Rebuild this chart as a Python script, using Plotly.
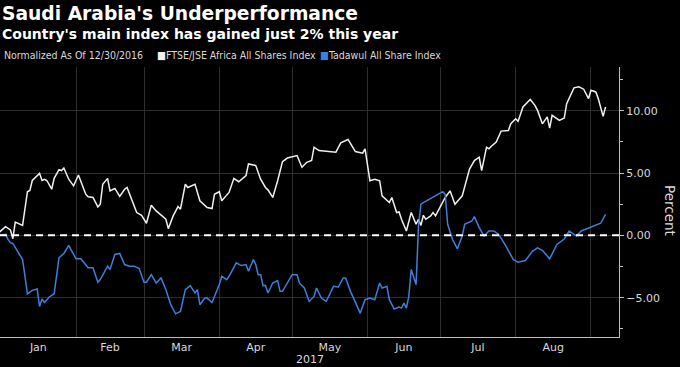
import plotly.graph_objects as go

# ---- data ----
ftse_dates = [
    "2016-12-30", "2017-01-03", "2017-01-05", "2017-01-06", "2017-01-07", "2017-01-09", "2017-01-10",
    "2017-01-12", "2017-01-13", "2017-01-14", "2017-01-17", "2017-01-18", "2017-01-19", "2017-01-20",
    "2017-01-22", "2017-01-23", "2017-01-25", "2017-01-26", "2017-01-27", "2017-01-29", "2017-01-31",
    "2017-02-02", "2017-02-05", "2017-02-06", "2017-02-08", "2017-02-10", "2017-02-11", "2017-02-12",
    "2017-02-14", "2017-02-15", "2017-02-17", "2017-02-19", "2017-02-21", "2017-02-22", "2017-02-24",
    "2017-02-26", "2017-02-28", "2017-03-02", "2017-03-04", "2017-03-06", "2017-03-10", "2017-03-11",
    "2017-03-13", "2017-03-15", "2017-03-16", "2017-03-18", "2017-03-19", "2017-03-22", "2017-03-24",
    "2017-03-27", "2017-03-29", "2017-03-30", "2017-04-01", "2017-04-02", "2017-04-05", "2017-04-07",
    "2017-04-09", "2017-04-12", "2017-04-13", "2017-04-16", "2017-04-18", "2017-04-20", "2017-04-21",
    "2017-04-23", "2017-04-25", "2017-04-27", "2017-04-29", "2017-05-03", "2017-05-05", "2017-05-07",
    "2017-05-09", "2017-05-10", "2017-05-12", "2017-05-14", "2017-05-19", "2017-05-21", "2017-05-24",
    "2017-05-27", "2017-05-30", "2017-05-31", "2017-06-02", "2017-06-04", "2017-06-06", "2017-06-07",
    "2017-06-10", "2017-06-11", "2017-06-13", "2017-06-14", "2017-06-15", "2017-06-17", "2017-06-19",
    "2017-06-21", "2017-06-22", "2017-06-23", "2017-06-24", "2017-06-25", "2017-06-27", "2017-06-28",
    "2017-06-29", "2017-07-03", "2017-07-05", "2017-07-07", "2017-07-10", "2017-07-13", "2017-07-15",
    "2017-07-17", "2017-07-18", "2017-07-20", "2017-07-21", "2017-07-22", "2017-07-24", "2017-07-26",
    "2017-07-28", "2017-07-29", "2017-07-30", "2017-08-01", "2017-08-02", "2017-08-04", "2017-08-07",
    "2017-08-09", "2017-08-10", "2017-08-12", "2017-08-13", "2017-08-14", "2017-08-15", "2017-08-16",
    "2017-08-19", "2017-08-21", "2017-08-22", "2017-08-23", "2017-08-25", "2017-08-27", "2017-08-29",
    "2017-08-31", "2017-09-01", "2017-09-03", "2017-09-04", "2017-09-06", "2017-09-07",
]
ftse_values = [
    0.00, 0.70, 0.43, -0.27, 1.07, 0.89, 0.80,
    3.50, 3.60, 4.40, 4.97, 4.40, 4.50, 4.40,
    3.70, 4.57, 5.27, 5.20, 5.40, 4.50, 3.97,
    4.84, 3.30, 3.10, 3.04, 2.28, 2.50, 4.10,
    4.57, 3.57, 3.76, 3.12, 3.70, 3.84, 2.90,
    1.83, 1.60, 0.97, 2.42, 1.96, 1.29, 0.54,
    1.56, 2.31, 2.10, 4.10, 3.84, 4.10, 2.77,
    2.23, 2.15, 3.30, 3.50, 2.77, 3.44, 4.57,
    4.30, 4.80, 5.73, 5.60, 4.50, 3.84, 3.65,
    3.04, 4.38, 5.91, 6.20, 6.40, 5.46, 5.86,
    6.00, 7.07, 6.80, 6.75, 6.67, 7.42, 7.69,
    6.72, 6.59, 6.94, 4.38, 4.50, 4.38, 3.17,
    2.63, 3.04, 1.83, 1.88, 1.29, 0.35, 1.83,
    0.89, 1.29, 0.80, 1.61, 1.29, 1.56, 1.83,
    1.56, 3.04, 3.57, 2.50, 3.17, 5.32, 6.00,
    6.27, 5.19, 7.07, 6.94, 7.15, 7.48, 8.36,
    8.41, 8.41, 8.95, 9.35, 9.14, 10.30, 10.90,
    10.40, 10.02, 8.95, 9.22, 9.49, 8.60, 9.62,
    9.22, 9.41, 10.56, 10.97, 11.83, 11.91, 11.72,
    10.97, 11.64, 11.50, 10.97, 9.54, 10.30,
]

tadawul_dates = [
    "2016-12-30", "2017-01-03", "2017-01-04", "2017-01-05", "2017-01-06", "2017-01-08", "2017-01-10",
    "2017-01-11", "2017-01-12", "2017-01-14", "2017-01-16", "2017-01-17", "2017-01-18", "2017-01-19",
    "2017-01-21", "2017-01-23", "2017-01-24", "2017-01-25", "2017-01-27", "2017-01-29", "2017-01-31",
    "2017-02-01", "2017-02-03", "2017-02-05", "2017-02-06", "2017-02-08", "2017-02-10", "2017-02-11",
    "2017-02-14", "2017-02-15", "2017-02-17", "2017-02-19", "2017-02-21", "2017-02-23", "2017-02-25",
    "2017-02-27", "2017-03-01", "2017-03-02", "2017-03-04", "2017-03-06", "2017-03-08", "2017-03-10",
    "2017-03-12", "2017-03-14", "2017-03-16", "2017-03-18", "2017-03-20", "2017-03-22", "2017-03-23",
    "2017-03-24", "2017-03-26", "2017-03-27", "2017-03-29", "2017-04-01", "2017-04-02", "2017-04-04",
    "2017-04-05", "2017-04-08", "2017-04-10", "2017-04-12", "2017-04-13", "2017-04-15", "2017-04-16",
    "2017-04-17", "2017-04-18", "2017-04-19", "2017-04-20", "2017-04-21", "2017-04-23", "2017-04-25",
    "2017-04-26", "2017-04-27", "2017-05-01", "2017-05-03", "2017-05-04", "2017-05-06", "2017-05-08",
    "2017-05-10", "2017-05-11", "2017-05-13", "2017-05-15", "2017-05-18", "2017-05-20", "2017-05-22",
    "2017-05-23", "2017-05-25", "2017-05-27", "2017-05-29", "2017-05-31", "2017-06-02", "2017-06-04",
    "2017-06-06", "2017-06-07", "2017-06-09", "2017-06-10", "2017-06-12", "2017-06-14", "2017-06-15",
    "2017-06-16", "2017-06-17", "2017-06-18", "2017-06-19", "2017-06-21", "2017-06-22", "2017-06-23",
    "2017-06-24", "2017-07-02", "2017-07-03", "2017-07-04", "2017-07-06", "2017-07-08", "2017-07-10",
    "2017-07-11", "2017-07-14", "2017-07-15", "2017-07-17", "2017-07-19", "2017-07-21", "2017-07-23",
    "2017-07-25", "2017-07-28", "2017-07-31", "2017-08-02", "2017-08-05", "2017-08-08", "2017-08-10",
    "2017-08-12", "2017-08-15", "2017-08-18", "2017-08-21", "2017-08-23", "2017-08-26", "2017-08-28",
    "2017-09-05", "2017-09-07",
]
tadawul_values = [
    0.00, 0.08, -0.32, -0.59, -0.65, -1.26, -1.94,
    -3.28, -4.70, -4.41, -4.30, -5.70, -5.10, -5.38,
    -4.94, -4.68, -3.01, -1.80, -1.45, -0.81, -1.53,
    -1.88, -1.88, -2.42, -2.60, -2.60, -3.76, -3.55,
    -2.47, -2.74, -1.53, -1.45, -2.34, -2.47, -2.47,
    -2.66, -3.76, -3.76, -3.15, -3.82, -3.41, -4.35,
    -5.56, -6.29, -6.10, -4.35, -4.03, -4.62, -4.35,
    -5.56, -5.03, -5.03, -5.38, -3.95, -3.28, -3.55,
    -3.28, -2.20, -2.42, -2.34, -2.88, -1.94, -2.34,
    -3.15, -3.15, -4.03, -4.00, -4.62, -3.82, -3.63,
    -4.49, -4.49, -3.15, -3.15, -3.82, -4.22, -5.30,
    -4.90, -4.22, -5.03, -5.30, -4.09, -4.14, -3.41,
    -3.41, -4.49, -5.30, -6.24, -5.16, -5.03, -5.16,
    -3.82, -4.22, -4.09, -5.16, -5.91, -5.75, -5.83,
    -5.43, -5.83, -4.90, -2.74, -3.95, 0.75, 2.50,
    2.63, 3.50, 3.30, 0.89, -0.32, -1.08, -0.05,
    0.89, 1.15, 1.50, 0.62, -0.05, 0.35, 0.35,
    0.08, -0.86, -1.94, -2.15, -2.02, -1.26, -1.00,
    -1.21, -1.88, -0.73, -0.30, 0.35, -0.05, 0.35,
    0.97, 1.69,
]

series_names = ["FTSE/JSE Africa All Shares Index", "Tadawul All Share Index"]
y_tick_step = 5
title_text = "Saudi Arabia's Underperformance"
subtitle_text = "Country's main index has gained just 2% this year"
note_text = "Normalized As Of 12/30/2016"
year_label = "2017"
axis_title = "Percent"

WHITE = "#f0f0f0"
BLUE = "#3d7fd9"
GRID = "#2e2e2e"
AXIS = "#bdbdbd"
TXT = "#d9d9d9"

fig = go.Figure()
fig.add_trace(go.Scatter(x=ftse_dates, y=ftse_values, mode="lines", name=series_names[0],
                         line=dict(color=WHITE, width=1.5)))
fig.add_trace(go.Scatter(x=tadawul_dates, y=tadawul_values, mode="lines", name=series_names[1],
                         line=dict(color=BLUE, width=1.5)))

# dashed zero line
fig.add_hline(y=0, line=dict(color="#ffffff", width=2, dash="7px,5px"), layer="above")

tick_font = dict(family="DejaVu Sans", size=11, color=TXT)

fig.update_layout(
    width=680, height=367,
    margin=dict(l=0, r=61, t=67, b=30, autoexpand=False),
    paper_bgcolor="#000000", plot_bgcolor="#000000",
    showlegend=False,
    xaxis=dict(
        type="date",
        range=["2016-12-31 17:00", "2017-09-12 13:00"],
        dtick="M1", tick0="2017-01-01", tickformat="%b",
        ticklabelmode="period",
        ticks="",
        minor=dict(dtick="M1", tick0="2017-01-01", ticks="outside", ticklen=3, tickcolor=AXIS, showgrid=False),
        showline=True, linecolor=AXIS, linewidth=1,
        showgrid=True, gridcolor=GRID, gridwidth=1,
        zeroline=False, automargin=False,
        tickfont=tick_font,
    ),
    yaxis=dict(
        side="right",
        range=[-8.15, 13.5],
        dtick=y_tick_step, tick0=0, tickformat=".2f",
        ticks="outside", ticklen=4, tickcolor=AXIS,
        minor=dict(dtick=y_tick_step / 2, tick0=0, ticks="outside", ticklen=3, tickcolor=AXIS, showgrid=False),
        showline=True, linecolor=AXIS, linewidth=1,
        showgrid=True, gridcolor=GRID, gridwidth=1,
        zeroline=False, automargin=False,
        tickfont=tick_font,
    ),
)

ann = []
ann.append(dict(text=f"<b>{title_text}</b>", x=0, xref="paper", y=1, yref="paper", yshift=54,
                xanchor="left", yanchor="middle", showarrow=False, xshift=0,
                font=dict(family="DejaVu Sans", size=18.7, color="#ffffff")))
ann.append(dict(text=f"<b>{subtitle_text}</b>", x=0, xref="paper", y=1, yref="paper", yshift=33,
                xanchor="left", yanchor="middle", showarrow=False, xshift=0,
                font=dict(family="DejaVu Sans", size=14, color="#ffffff")))
legend_font = dict(family="DejaVu Sans Condensed, DejaVu Sans", size=10.5, color=TXT)
ann.append(dict(text=note_text, x=0, xref="paper", y=1, yref="paper", yshift=12, xshift=2,
                xanchor="left", yanchor="middle", showarrow=False, font=legend_font))
ann.append(dict(text=f"<span style='color:{WHITE}'>■</span>{series_names[0]}", x=0, xref="paper",
                y=1, yref="paper", yshift=12, xshift=155,
                xanchor="left", yanchor="middle", showarrow=False, font=legend_font))
ann.append(dict(text=f"<span style='color:{BLUE}'>■</span>{series_names[1]}", x=0, xref="paper",
                y=1, yref="paper", yshift=12, xshift=318,
                xanchor="left", yanchor="middle", showarrow=False, font=legend_font))
ann.append(dict(text=year_label, x=0.5, xref="paper", y=0, yref="paper", yshift=-22,
                xanchor="center", yanchor="middle", showarrow=False, font=tick_font))
ann.append(dict(text=axis_title, x=1, xref="paper", y=0.5, yref="paper", xshift=51, yshift=-8,
                xanchor="center", yanchor="middle", textangle=90, showarrow=False,
                font=dict(family="DejaVu Sans", size=13.5, color=TXT)))
fig.update_layout(annotations=ann)

fig.write_html("out.html", config={"displayModeBar": False},
               post_script="document.body.style.margin='0';document.body.style.background='#000';")
